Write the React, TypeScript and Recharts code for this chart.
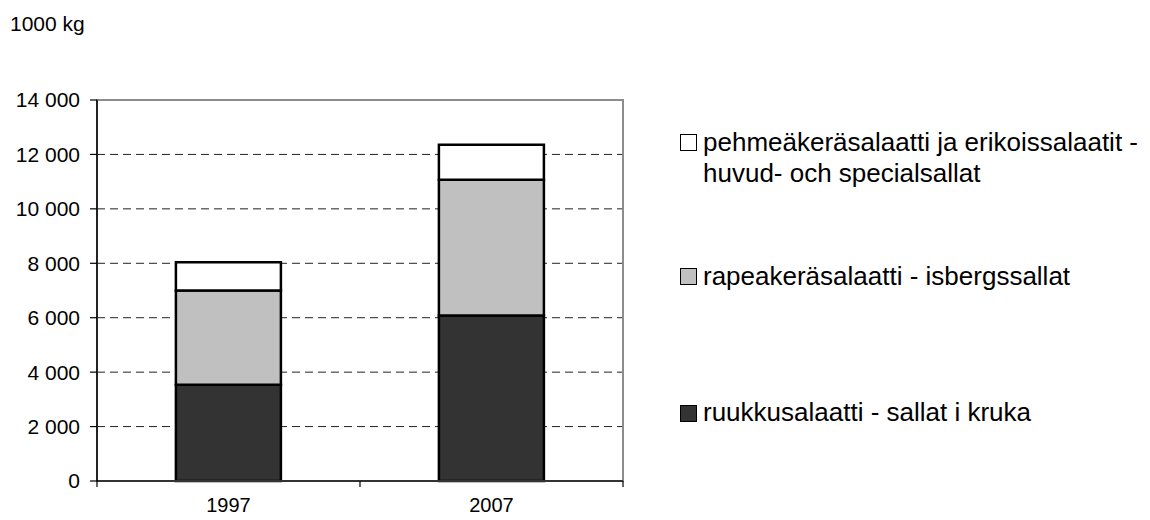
import React from "react";
import { BarChart, Bar, XAxis, YAxis, CartesianGrid, Legend, ReferenceArea } from "recharts";

const categories = ["1997", "2007"];
const ruukkusalaatti = [3540, 6080];
const rapeakerasalaatti = [3460, 4990];
const pehmeakerasalaatti = [1040, 1285];
const yTicks = [0, 2000, 4000, 6000, 8000, 10000, 12000, 14000];

const seriesNames = {
  ruukku: "ruukkusalaatti - sallat i kruka",
  rapea: "rapeakeräsalaatti - isbergssallat",
  pehmea: "pehmeäkeräsalaatti ja erikoissalaatit - huvud- och specialsallat",
};
const legendOrder = ["pehmea", "rapea", "ruukku"];

const data = categories.map((c, i) => ({
  year: c,
  ruukku: ruukkusalaatti[i],
  rapea: rapeakerasalaatti[i],
  pehmea: pehmeakerasalaatti[i],
}));

const FONT = '"Liberation Sans", Arial, Helvetica, sans-serif';

const fmt = (n: number) => String(n).replace(/\B(?=(\d{3})+(?!\d))/g, " ");

const XTick = (props: any) => {
  const { x, y, payload, index, visibleTicksCount } = props;
  const half = payload && typeof payload.offset === "number" ? payload.offset : 0;
  const isLast = index === (visibleTicksCount ?? 0) - 1;
  return (
    <g>
      <line x1={x - half} x2={x - half} y1={y} y2={y + 6} stroke="#000" strokeWidth={1.2} />
      {isLast && <line x1={x + half} x2={x + half} y1={y} y2={y + 6} stroke="#000" strokeWidth={1.2} />}
      <text x={x} y={y + 17} dy="0.71em" textAnchor="middle" fontSize={20} fontFamily={FONT} fill="#000">
        {payload.value}
      </text>
    </g>
  );
};

const itemTops = [118.5, 252.5, 389];

const LegendContent = (props: any) => {
  const all = props.payload || [];
  const payload = legendOrder
    .map((k) => all.find((p: any) => p.dataKey === k))
    .filter(Boolean);
  return (
    <div style={{ position: "relative", width: 470, height: 440, fontFamily: FONT }}>
      {payload.map((p: any, i: number) => (
        <div
          key={p.value}
          style={{
            position: "absolute",
            left: 0,
            top: itemTops[i],
            display: "flex",
            alignItems: "flex-start",
            fontSize: 26,
            lineHeight: "31px",
            color: "#000",
          }}
        >
          <div
            style={{
              width: 17,
              height: 17,
              boxSizing: "border-box",
              border: "1.5px solid #000",
              background: p.payload?.fill ?? p.color,
              marginTop: 7.5,
              marginRight: 6,
              flex: "0 0 auto",
            }}
          />
          <div style={{ maxWidth: 450 }}>{p.value}</div>
        </div>
      ))}
    </div>
  );
};

export default function App() {
  return (
    <div style={{ position: "relative", width: 1142, height: 512, fontFamily: FONT }}>
      <div
        style={{
          position: "absolute",
          left: 2,
          top: 6,
          fontSize: 21,
          lineHeight: "20px",
          color: "#000",
          fontFamily: FONT,
        }}
      >
        1000 kg
      </div>
      <BarChart
        width={1142}
        height={512}
        data={data}
        margin={{ top: 92, right: 527, bottom: 0, left: 0 }}
        barCategoryGap="30%"
      >
        <CartesianGrid vertical={false} stroke="#222" strokeDasharray="8 5" strokeWidth={1} yAxisId="main" xAxisId="main" />
        <ReferenceArea
          xAxisId="main"
          yAxisId="main"
          y1={0}
          y2={14000}
          fill="none"
          fillOpacity={0}
          stroke="#8c8c8c"
          strokeWidth={2}
          ifOverflow="visible"
        />
        <Legend
          layout="vertical"
          align="center"
          verticalAlign="middle"
          content={<LegendContent />}
          wrapperStyle={{ left: 672, top: 0, width: 470, height: 440 }}
        />
        <Bar
          dataKey="ruukku"
          name={seriesNames.ruukku}
          stackId="a"
          xAxisId="main"
          yAxisId="main"
          fill="#333333"
          stroke="#000"
          strokeWidth={2.5}
          isAnimationActive={false}
        />
        <Bar
          dataKey="rapea"
          name={seriesNames.rapea}
          stackId="a"
          xAxisId="main"
          yAxisId="main"
          fill="#c0c0c0"
          stroke="#000"
          strokeWidth={2.5}
          isAnimationActive={false}
        />
        <Bar
          dataKey="pehmea"
          name={seriesNames.pehmea}
          stackId="a"
          xAxisId="main"
          yAxisId="main"
          fill="#ffffff"
          stroke="#000"
          strokeWidth={2.5}
          isAnimationActive={false}
        />
        <XAxis
          dataKey="year"
          xAxisId="main"
          height={39}
          tickLine={false}
          tickSize={0}
          tickMargin={0}
          axisLine={{ stroke: "#333", strokeWidth: 2 }}
          tick={<XTick />}
          interval={0}
        />
        <YAxis
          yAxisId="main"
          width={89}
          domain={[0, 14000]}
          ticks={yTicks}
          tickFormatter={fmt}
          tickSize={7}
          tickMargin={10}
          interval={0}
          axisLine={{ stroke: "#000", strokeWidth: 1.5 }}
          tickLine={{ stroke: "#000", strokeWidth: 1.2 }}
          tick={{ fontSize: 21, fill: "#000", fontFamily: FONT }}
        />
      </BarChart>
    </div>
  );
}
